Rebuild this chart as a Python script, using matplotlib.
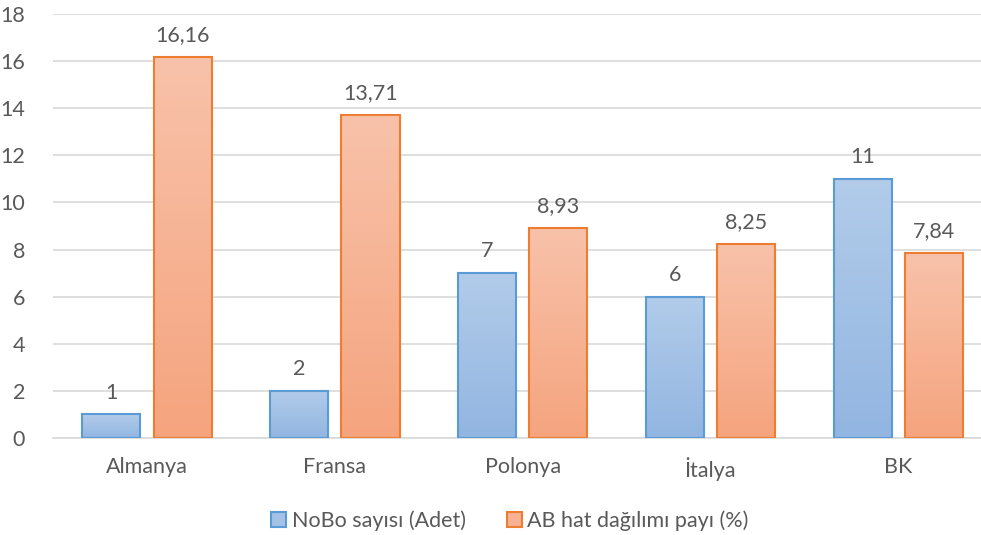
import matplotlib
matplotlib.use("Agg")
import matplotlib.pyplot as plt
import numpy as np
from matplotlib.colors import LinearSegmentedColormap
from matplotlib.patches import Patch

categories = ["Almanya", "Fransa", "Polonya", "İtalya", "BK"]
nobo = [1, 2, 7, 6, 11]
ab_pay = [16.16, 13.71, 8.93, 8.25, 7.84]
nobo_labels = ["1", "2", "7", "6", "11"]
ab_labels = ["16,16", "13,71", "8,93", "8,25", "7,84"]
series_names = ["NoBo sayısı (Adet)", "AB hat dağılımı payı (%)"]
yticks = [0, 2, 4, 6, 8, 10, 12, 14, 16, 18]

plt.rcParams['font.family'] = ['Lato', 'DejaVu Sans']
txt = '#595959'
fs = 15.5

fig = plt.figure(figsize=(9.81, 5.35), dpi=100)
ax = fig.add_axes([53/981, (535-438)/535, (981-53)/981, (438-14)/535])

blue_cmap = LinearSegmentedColormap.from_list('b', ['#92B5E1', '#B2CCEA'])
orange_cmap = LinearSegmentedColormap.from_list('o', ['#F5A47E', '#F8C2AA'])
blue_edge = '#5B9BD5'
orange_edge = '#ED7D31'

x = np.arange(len(categories))
w = 0.31
off = 0.19
grad = np.linspace(0, 1, 256).reshape(-1, 1)

for vals, labels, sign, cmap, edge in [(nobo, nobo_labels, -1, blue_cmap, blue_edge),
                                      (ab_pay, ab_labels, 1, orange_cmap, orange_edge)]:
    for xi, v, lab in zip(x, vals, labels):
        xc = xi + sign * off
        ax.imshow(grad, extent=[xc - w/2, xc + w/2, 0, v], origin='lower',
                  cmap=cmap, aspect='auto', zorder=2, interpolation='bicubic')
        ax.bar(xc, v, width=w, facecolor='none', edgecolor=edge, linewidth=1.5, zorder=3)
        ax.text(xc, v + 0.5, lab, ha='center', va='bottom', color=txt, fontsize=fs)

ax.set_xlim(-0.5, 4.44)
ax.set_ylim(0, 18)
ax.set_yticks(yticks)
ax.set_yticklabels([str(t) for t in yticks])
ax.set_xticks(x)
ax.set_xticklabels(categories)
ax.yaxis.grid(True, color='#D9D9D9', linewidth=1.2, zorder=0)
ax.set_axisbelow(True)
for s in ['top', 'right', 'left']:
    ax.spines[s].set_visible(False)
ax.spines['bottom'].set_color('#D9D9D9')
ax.spines['bottom'].set_linewidth(1.2)
ax.tick_params(axis='both', length=0, labelsize=fs, labelcolor=txt)
ax.tick_params(axis='y', pad=20)
ax.tick_params(axis='x', pad=14)

handles = [Patch(facecolor='#A5C2E6', edgecolor=blue_edge, linewidth=1.5),
           Patch(facecolor='#F6B293', edgecolor=orange_edge, linewidth=1.5)]
fig.legend(handles, series_names, loc='center', bbox_to_anchor=(510/981, 1 - 521/535),
           ncol=2, frameon=False, fontsize=fs, labelcolor=txt,
           handlelength=0.7, handleheight=0.7, handletextpad=0.25, columnspacing=1.9)

fig.savefig('out.png', dpi=100)
